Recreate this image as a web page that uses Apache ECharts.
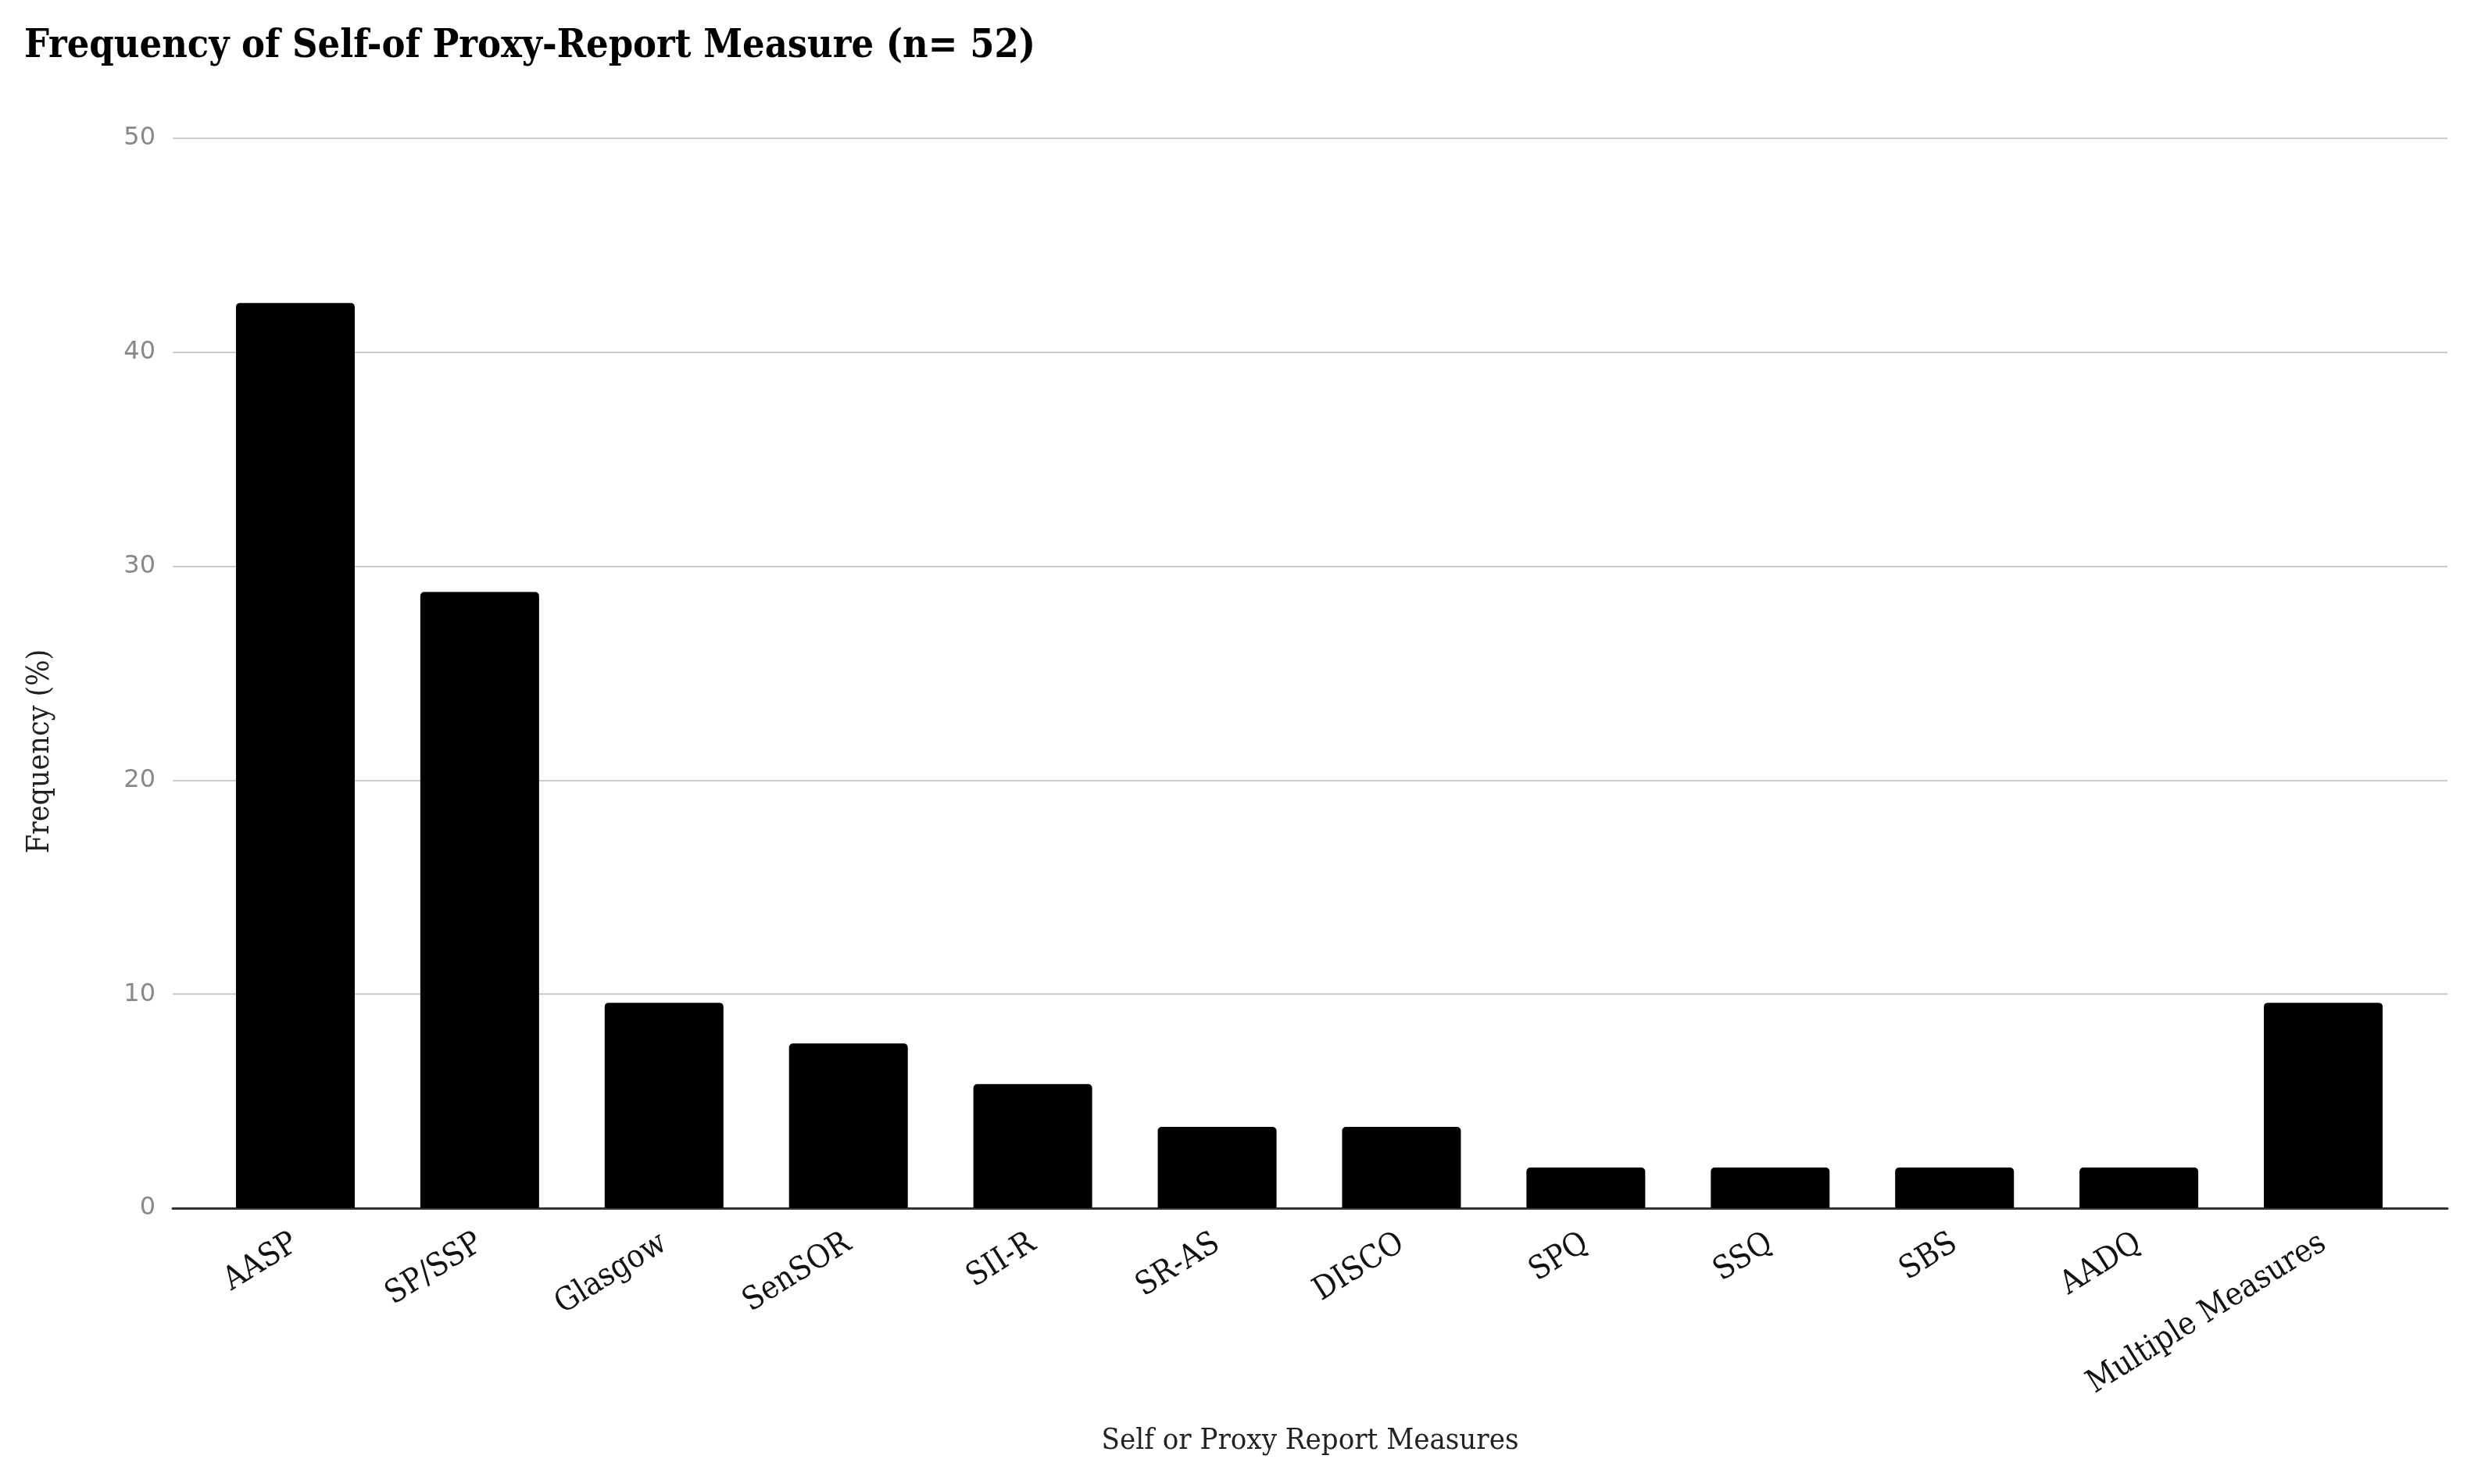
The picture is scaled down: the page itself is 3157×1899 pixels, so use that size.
<!DOCTYPE html>
<html>
<head>
<meta charset="utf-8">
<script src="https://cdn.jsdelivr.net/npm/echarts@6/dist/echarts.min.js"></script>
<style>
html,body{margin:0;padding:0;background:#fff;}
#chart{width:3157px;height:1899px;}
</style>
</head>
<body>
<div id="chart"></div>
<script>
// Data
const categories = ['AASP','SP/SSP','Glasgow','SenSOR','SII-R','SR-AS','DISCO','SPQ','SSQ','SBS','AADQ','Multiple Measures'];
const frequencies = [42.3, 28.8, 9.6, 7.7, 5.8, 3.8, 3.8, 1.9, 1.9, 1.9, 1.9, 9.6];
const yTicks = [0, 10, 20, 30, 40, 50];
const titleText = 'Frequency of Self-of Proxy-Report Measure (n= 52)';
const xName = 'Self or Proxy Report Measures';
const yName = 'Frequency (%)';

const serif = "'DejaVu Serif Condensed', 'Liberation Serif', serif";

const chart = echarts.init(document.getElementById('chart'));
chart.setOption({
  backgroundColor: '#ffffff',
  animation: false,
  title: {
    text: titleText,
    left: 26, top: 30,
    textStyle: { fontFamily: serif, fontWeight: 'bold', fontSize: 50, color: '#000' }
  },
  grid: [
    { left: 221, right: 25, top: 177, bottom: 353 },
    { left: 260, right: 66, top: 177, bottom: 353 }
  ],
  xAxis: [
    {
      gridIndex: 0, type: 'category', data: [''],
      axisLine: { show: true, lineStyle: { color: '#333', width: 3 } },
      axisTick: { show: false }, axisLabel: { show: false },
      name: xName, nameLocation: 'middle', nameGap: 279,
      nameTextStyle: { fontFamily: serif, fontSize: 38, color: '#222' }
    },
    {
      gridIndex: 1, type: 'category', data: categories,
      axisLine: { show: false }, axisTick: { show: false },
      axisLabel: { rotate: 32, margin: 42, fontFamily: serif, fontSize: 41, color: '#111', interval: 0 }
    }
  ],
  yAxis: [
    {
      gridIndex: 0, type: 'value', min: yTicks[0], max: yTicks[yTicks.length - 1], interval: 10,
      axisLine: { show: false }, axisTick: { show: false },
      axisLabel: { margin: 22, fontFamily: "'DejaVu Sans', sans-serif", fontSize: 32, color: '#888' },
      splitLine: { lineStyle: { color: '#cccccc', width: 2 } },
      name: yName, nameLocation: 'middle', nameGap: 150, nameRotate: 90,
      nameTextStyle: { fontFamily: serif, fontSize: 39, color: '#222', padding: [0, 200, 0, 0] }
    },
    {
      gridIndex: 1, type: 'value', min: yTicks[0], max: yTicks[yTicks.length - 1], interval: 10,
      show: false
    }
  ],
  series: [{
    type: 'bar', xAxisIndex: 1, yAxisIndex: 1,
    data: frequencies,
    barWidth: 152,
    itemStyle: { color: '#000', borderRadius: [5, 5, 0, 0] }
  }]
});
</script>
</body>
</html>
